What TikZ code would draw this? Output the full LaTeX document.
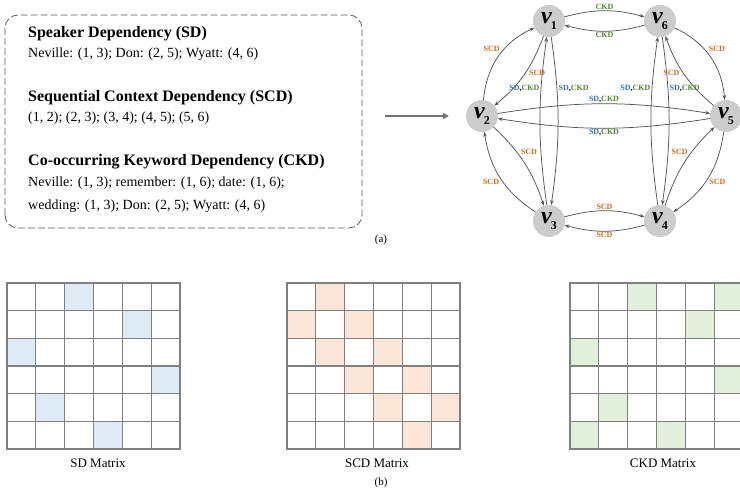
\documentclass[tikz,border=0pt]{standalone}
\usepackage{fontspec}
\setmainfont{Liberation Serif}
\usetikzlibrary{arrows.meta}

\definecolor{sdblue}{RGB}{46,117,190}
\definecolor{ckdgreen}{RGB}{80,135,45}
\definecolor{scdorange}{RGB}{214,105,30}
\definecolor{sdfill}{RGB}{222,234,246}
\definecolor{scdfill}{RGB}{251,229,214}
\definecolor{ckdfill}{RGB}{226,239,218}
\definecolor{edgegray}{RGB}{85,85,85}
\definecolor{gridgray}{RGB}{128,128,128}

% edge tags
\newcommand{\SDtag}{\textcolor{sdblue}{SD}}
\newcommand{\CKDtag}{\textcolor{ckdgreen}{CKD}}
\newcommand{\SCDtag}{\textcolor{scdorange}{SCD}}
\newcommand{\SDCKDtag}{\SDtag,\CKDtag}
% vertex names v_i
\newcommand{\vlabel}[1]{\fontsize{24}{24}\selectfont\textbf{\textit{v}}\kern-1pt\raisebox{-0.6ex}{\fontsize{12}{12}\selectfont\textbf{#1}}}
% 6x6 cell grid
\newcommand{\cellgrid}{%
  \foreach \k in {0,...,6} {\draw[CellGrid] (\k,0) -- (\k,6); \draw[CellGrid] (0,\k) -- (6,\k);}}

\begin{document}
\begin{tikzpicture}[x=1pt,y=1pt]
\tikzset{VertexStyle/.style = {
shape = circle,
fill = gray!40,
inner sep = 0pt,
outer sep = 0pt,
minimum size = 32pt},
EdgeStyle/.style = {
draw = edgegray,
line width = 0.75pt,
-{Stealth[length=5pt,width=3.6pt]}},
LabelStyle/.style = {
font = \fontsize{8}{8}\selectfont\bfseries,
inner sep = 1pt,
auto},
HeadStyle/.style = {anchor = base west, inner sep = 0pt,
font = \fontsize{16}{16}\selectfont\bfseries},
BodyStyle/.style = {anchor = base west, inner sep = 0pt,
font = \fontsize{14}{14}\selectfont},
CellGrid/.style = {draw = gridgray, line width = 1.2pt, line cap = rect},
CapStyle/.style = {font = \fontsize{13}{13}\selectfont}}
\useasboundingbox (0,0) rectangle (740,489);

% dependency list
\draw[gray!70!black, line width=0.8pt, dash pattern=on 7pt off 3pt, rounded corners=13pt]
  (5,261) rectangle (362,474);
\node[HeadStyle] (sdhead) at (28,451) {Speaker Dependency (SD)};
\node[BodyStyle] (sdtext) at (28,431) {Neville: (1, 3); Don: (2, 5); Wyatt: (4, 6)};
\node[HeadStyle] (scdhead) at (28,387) {Sequential Context Dependency (SCD)};
\node[BodyStyle] (scdtext) at (28,367) {(1, 2); (2, 3); (3, 4); (4, 5); (5, 6)};
\node[HeadStyle] (ckdhead) at (28,323) {Co-occurring Keyword Dependency (CKD)};
\node[BodyStyle] (ckdtexta) at (28,302) {Neville: (1, 3); remember: (1, 6); date: (1, 6);};
\node[BodyStyle] (ckdtextb) at (28,279) {wedding: (1, 3); Don: (2, 5); Wyatt: (4, 6)};

\coordinate (arrowtail) at (385,373);
\coordinate (arrowtip) at (449,373);
\draw[gray!90!black, line width=1.4pt, -{Triangle[length=6pt,width=6pt]}] (arrowtail) -- (arrowtip);

% graph
\node[VertexStyle] (v1) at (549,468) {\vlabel{1}};
\node[VertexStyle] (v6) at (660,468) {\vlabel{6}};
\node[VertexStyle] (v2) at (482,373) {\vlabel{2}};
\node[VertexStyle] (v5) at (726,373) {\vlabel{5}};
\node[VertexStyle] (v3) at (549,268) {\vlabel{3}};
\node[VertexStyle] (v4) at (660,268) {\vlabel{4}};

\draw[EdgeStyle] (v1) to[bend left=15] node[LabelStyle] {\CKDtag} (v6);
\draw[EdgeStyle] (v6) to[bend left=15] node[LabelStyle] {\CKDtag} (v1);
\draw[EdgeStyle] (v3) to[bend left=15] node[LabelStyle] {\SCDtag} (v4);
\draw[EdgeStyle] (v4) to[bend left=15] node[LabelStyle] {\SCDtag} (v3);
\draw[EdgeStyle] (v2) to[bend left=9] node[LabelStyle] {\SDCKDtag} (v5);
\draw[EdgeStyle] (v5) to[bend left=9] node[LabelStyle] {\SDCKDtag} (v2);
\draw[EdgeStyle] (v3) to[bend left=8] node[LabelStyle,pos=0.68] {\SDCKDtag} (v1);
\draw[EdgeStyle] (v1) to[bend left=8] node[LabelStyle,pos=0.32] {\SDCKDtag} (v3);
\draw[EdgeStyle] (v4) to[bend left=8] node[LabelStyle,pos=0.68] {\SDCKDtag} (v6);
\draw[EdgeStyle] (v6) to[bend left=8] node[LabelStyle,pos=0.32] {\SDCKDtag} (v4);
\draw[EdgeStyle] (v2) to[bend left=30] node[LabelStyle,pos=0.55] {\SCDtag} (v1);
\draw[EdgeStyle] (v1) to[bend left=15] node[LabelStyle,pos=0.42] {\SCDtag} (v2);
\draw[EdgeStyle] (v3) to[bend left=24] node[LabelStyle] {\SCDtag} (v2);
\draw[EdgeStyle] (v2) to[bend left=14] node[LabelStyle,pos=0.4] {\SCDtag} (v3);
\draw[EdgeStyle] (v6) to[bend left=30] node[LabelStyle,pos=0.45] {\SCDtag} (v5);
\draw[EdgeStyle] (v5) to[bend left=15] node[LabelStyle,pos=0.58] {\SCDtag} (v6);
\draw[EdgeStyle] (v5) to[bend left=24] node[LabelStyle] {\SCDtag} (v4);
\draw[EdgeStyle] (v4) to[bend left=14] node[LabelStyle,pos=0.6] {\SCDtag} (v5);

\node (capa) at (381,249) {\fontsize{11}{11}\selectfont (a)};

% adjacency matrices, one cell per unit
\begin{scope}[shift={(7,40)}, x=28.83pt, y=27.67pt]
\fill[sdfill] (2,5) rectangle ++(1,1) (4,4) rectangle ++(1,1) (0,3) rectangle ++(1,1)
  (5,2) rectangle ++(1,1) (1,1) rectangle ++(1,1) (3,0) rectangle ++(1,1);
\cellgrid
\end{scope}
\begin{scope}[shift={(287,40)}, x=28.83pt, y=27.67pt]
\fill[scdfill] (1,5) rectangle ++(1,1) (0,4) rectangle ++(1,1) (2,4) rectangle ++(1,1)
  (1,3) rectangle ++(1,1) (3,3) rectangle ++(1,1) (2,2) rectangle ++(1,1)
  (4,2) rectangle ++(1,1) (3,1) rectangle ++(1,1) (5,1) rectangle ++(1,1)
  (4,0) rectangle ++(1,1);
\cellgrid
\end{scope}
\begin{scope}[shift={(570,40)}, x=28.83pt, y=27.67pt]
\fill[ckdfill] (2,5) rectangle ++(1,1) (5,5) rectangle ++(1,1) (4,4) rectangle ++(1,1)
  (0,3) rectangle ++(1,1) (5,2) rectangle ++(1,1) (1,1) rectangle ++(1,1)
  (0,0) rectangle ++(1,1) (3,0) rectangle ++(1,1);
\cellgrid
\end{scope}

\node[CapStyle] (sdcap) at (98,26) {SD Matrix};
\node[CapStyle] (scdcap) at (377,26) {SCD Matrix};
\node[CapStyle] (ckdcap) at (663,26) {CKD Matrix};
\node (capb) at (381,6) {\fontsize{11}{11}\selectfont (b)};
\end{tikzpicture}
\end{document}
